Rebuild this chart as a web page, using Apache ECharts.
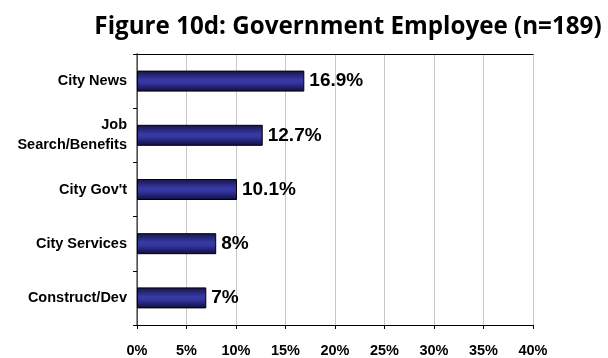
<!DOCTYPE html>
<html>
<head>
<meta charset="utf-8">
<script src="https://cdn.jsdelivr.net/npm/echarts@6/dist/echarts.min.js"></script>
<style>
  html, body { margin: 0; padding: 0; background: #fff; }
  #chart { width: 608px; height: 358px; }
</style>
</head>
<body>
<div id="chart"></div>
<script>
// Survey topics of interest, listed top to bottom
const categories = ['City News', 'Job\nSearch/Benefits', "City Gov't", 'City Services', 'Construct/Dev'];
// Share of respondents (%) for each topic
const shares = [16.9, 12.7, 10.1, 8, 7];
// Percentage axis ticks
const tickValues = [0, 5, 10, 15, 20, 25, 30, 35, 40];

const chart = echarts.init(document.getElementById('chart'), null, { renderer: 'canvas' });

// Category axis runs bottom-up, so reverse for top-to-bottom order
const cats = categories.slice().reverse();
const vals = shares.slice().reverse();

const barFill = new echarts.graphic.LinearGradient(0, 0, 0, 1, [
  { offset: 0, color: '#14144a' },
  { offset: 0.45, color: '#3a3aa6' },
  { offset: 0.6, color: '#34349e' },
  { offset: 1, color: '#0e0e38' }
]);

chart.setOption({
  animation: false,
  title: {
    text: 'Figure 10d: Government Employee (n=189)',
    left: 343,
    top: 10,
    textAlign: 'center',
    textStyle: { fontFamily: 'Open Sans', fontWeight: 'bold', fontSize: 24.2, color: '#000' }
  },
  grid: { left: 137, right: 75, top: 54, bottom: 28, containLabel: false },
  xAxis: [{
    type: 'value',
    min: tickValues[0],
    max: tickValues[tickValues.length - 1],
    interval: 5,
    axisLine: { show: true, lineStyle: { color: '#000', width: 1 } },
    axisTick: { show: true, length: 4, lineStyle: { color: '#000' } },
    axisLabel: {
      formatter: v => v + '%',
      margin: 18,
      fontFamily: 'Liberation Sans', fontWeight: 'bold', fontSize: 14.5, color: '#000'
    },
    splitLine: { show: true, lineStyle: { color: '#c8c8c8', width: 1 } }
  }, {
    type: 'value',
    position: 'top',
    min: 0, max: 40, interval: 5,
    axisLine: { show: true, lineStyle: { color: '#000', width: 1 } },
    axisTick: { show: false },
    axisLabel: { show: false },
    splitLine: { show: false }
  }],
  yAxis: [{
    type: 'category',
    data: cats,
    axisLine: { show: true, lineStyle: { color: '#000', width: 1 } },
    axisTick: { show: true, length: 4, lineStyle: { color: '#000' } },
    axisLabel: {
      margin: 10,
      align: 'right',
      lineHeight: 20,
      fontFamily: 'Liberation Sans', fontWeight: 'bold', fontSize: 14.5, color: '#000'
    },
    splitLine: { show: false }
  }, {
    type: 'category',
    data: cats,
    position: 'right',
    axisLine: { show: true, lineStyle: { color: '#6a6a6a', width: 1.5 } },
    axisTick: { show: false },
    axisLabel: { show: false }
  }],
  series: [{
    type: 'bar',
    data: vals,
    barWidth: 21,
    itemStyle: { color: barFill, borderColor: '#000', borderWidth: 1 },
    label: {
      show: true,
      position: 'right',
      distance: 5,
      formatter: p => p.value + '%',
      fontFamily: 'Liberation Sans', fontWeight: 'bold', fontSize: 19, color: '#000'
    }
  }]
});
</script>
</body>
</html>
